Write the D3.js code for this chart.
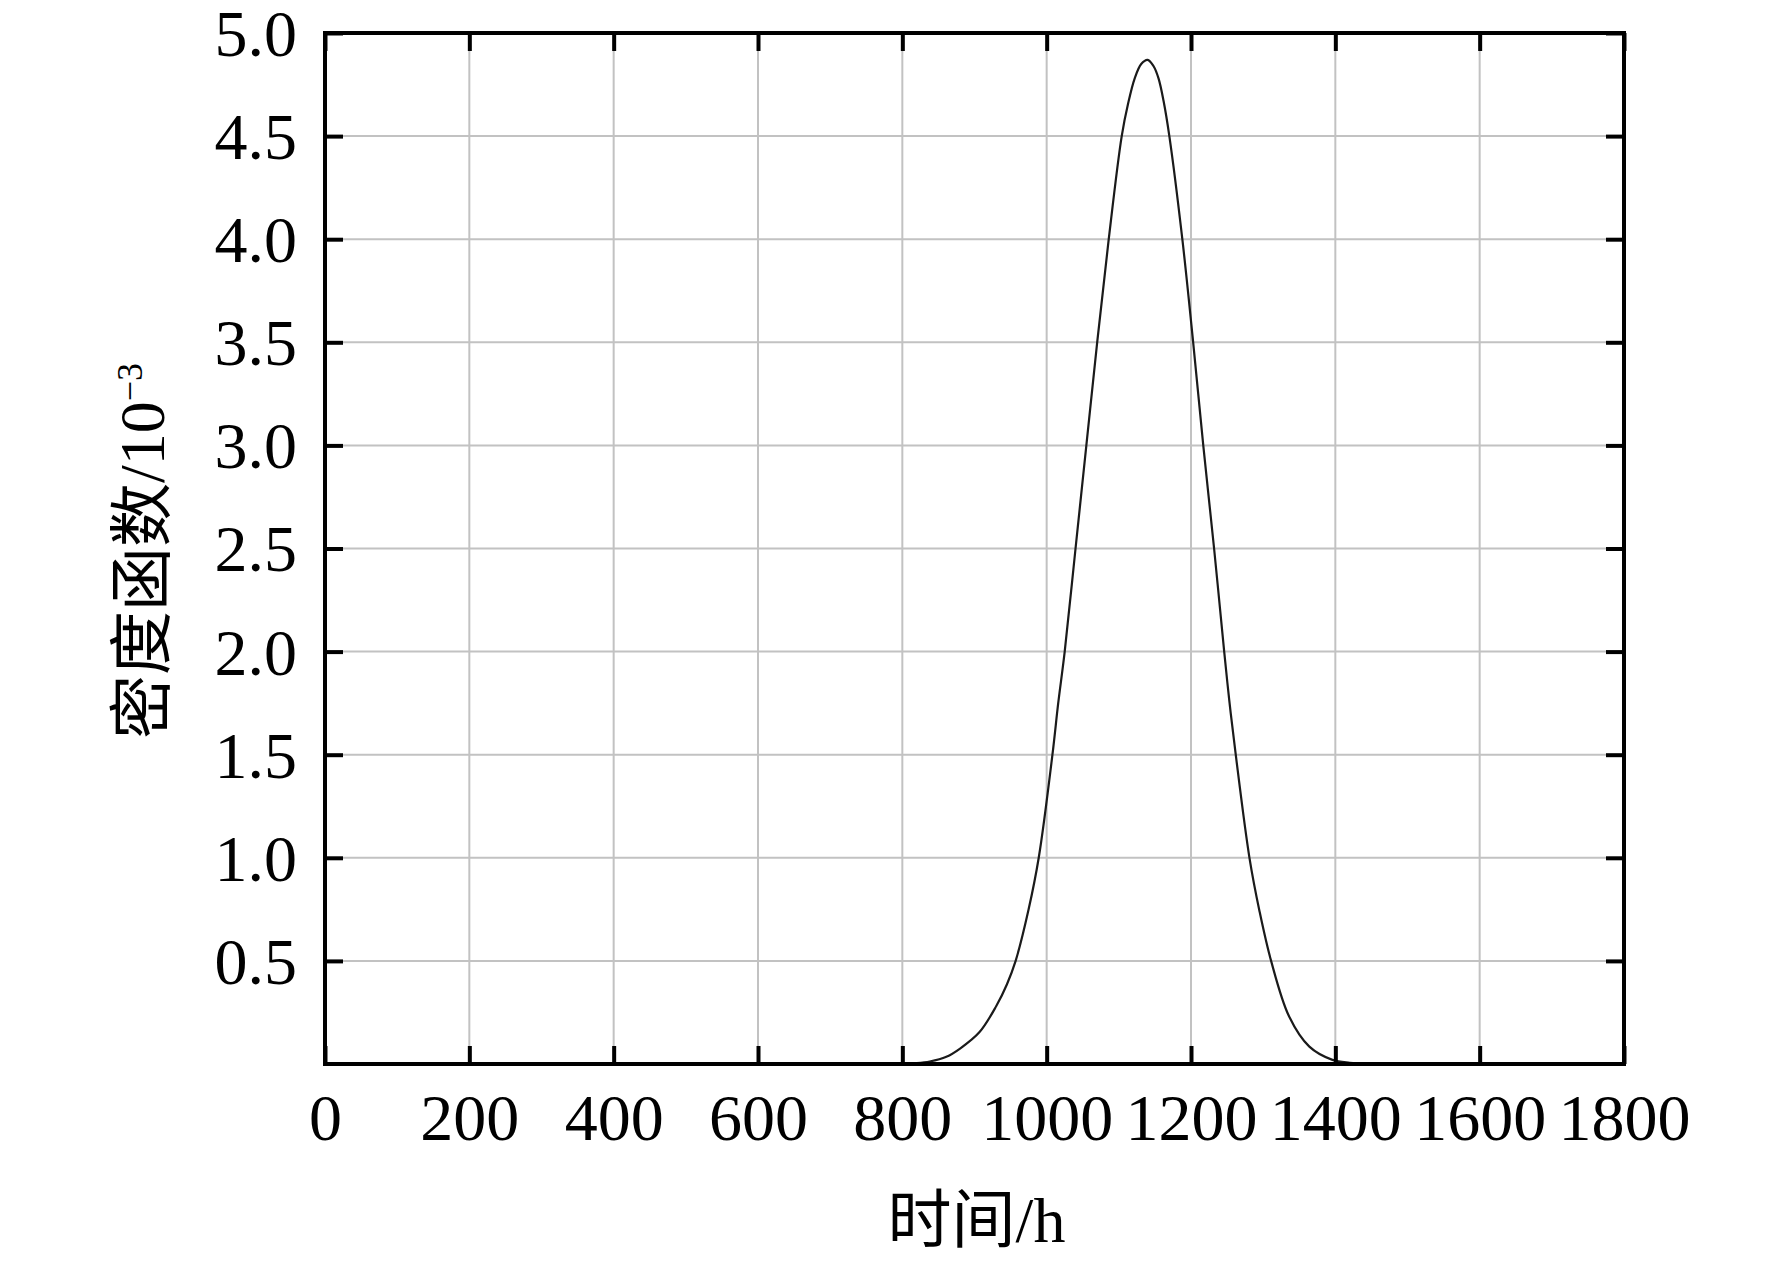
<!DOCTYPE html>
<html>
<head>
<meta charset="utf-8">
<script src="https://cdn.jsdelivr.net/npm/d3@7/dist/d3.min.js"></script>
<style>
  html, body { margin: 0; padding: 0; background: #fff; }
  svg { display: block; }
  text { font-family: "Liberation Serif", "Noto Sans CJK SC", serif; fill: #000; }
</style>
</head>
<body>
<svg id="chart" width="1772" height="1262"></svg>
<script>
// ---- data ----
const time = [0, 780, 800, 820, 838, 861, 880, 907, 930, 945, 957, 975, 989, 1008, 1016, 1025, 1040, 1055, 1070, 1086, 1104, 1113, 1122, 1131, 1140, 1148, 1155, 1162, 1170, 1188, 1203, 1217, 1232, 1246, 1253, 1262, 1281, 1295, 1311, 1336, 1364, 1396, 1420, 1450, 1480, 1800];
const density = [0, 0, 0.001, 0.004, 0.012, 0.035, 0.075, 0.155, 0.28, 0.387, 0.5, 0.75, 1.0, 1.5, 1.75, 2.0, 2.5, 3.0, 3.5, 4.0, 4.5, 4.66, 4.78, 4.85, 4.87, 4.84, 4.78, 4.67, 4.5, 4.0, 3.5, 3.0, 2.5, 2.0, 1.765, 1.5, 1.0, 0.74, 0.5, 0.23, 0.084, 0.02, 0.006, 0.001, 0, 0];
const xTicks = [0, 200, 400, 600, 800, 1000, 1200, 1400, 1600, 1800];
const yTicks = [0.5, 1.0, 1.5, 2.0, 2.5, 3.0, 3.5, 4.0, 4.5, 5.0];
const xTitle = "时间/h";
const yTitleMain = "密度函数/10";
const yTitleSup = "−3";

(function () {
// ---- layout ----
const svg = d3.select("#chart");
const pL = 325, pR = 1624, pT = 33, pB = 1064;
const x = d3.scaleLinear().domain([0, 1800]).range([pL, pR]);
const y = d3.scaleLinear().domain([0, 5]).range([pB, pT]);

// grid
const grid = svg.append("g");
grid.selectAll("line.gx").data(xTicks.filter(d => d > 0 && d < 1800)).enter()
  .append("line").attr("x1", d => x(d)).attr("x2", d => x(d))
  .attr("y1", pT).attr("y2", pB)
  .attr("stroke", "#c2c2c2").attr("stroke-width", 2);
grid.selectAll("line.gy").data(yTicks.filter(d => d < 5)).enter()
  .append("line").attr("y1", d => y(d)).attr("y2", d => y(d))
  .attr("x1", pL).attr("x2", pR)
  .attr("stroke", "#c2c2c2").attr("stroke-width", 2);

// curve
const line = d3.line().x((d, i) => x(time[i])).y((d, i) => y(density[i])).curve(d3.curveCatmullRom.alpha(0.5));
svg.append("path").datum(density).attr("d", line)
  .attr("fill", "none").attr("stroke", "#1a1a1a").attr("stroke-width", 2.2);

// axes (ticks inward)
const tickLen = 18;
function styleAxis(g) {
  g.select(".domain").remove();
  g.selectAll(".tick line").attr("stroke", "#000").attr("stroke-width", 4);
}
const gx = svg.append("g").attr("transform", `translate(0,${pB})`)
  .call(d3.axisBottom(x).tickValues(xTicks).tickSize(-tickLen).tickFormat(d3.format("d")));
styleAxis(gx);
gx.selectAll("text").attr("y", 76).attr("dy", 0).attr("font-size", 66)
  .attr("font-family", "Liberation Serif").attr("fill", "#000");

const gy = svg.append("g").attr("transform", `translate(${pL},0)`)
  .call(d3.axisLeft(y).tickValues(yTicks).tickSize(-tickLen).tickFormat(d3.format(".1f")));
styleAxis(gy);
gy.selectAll("text").attr("x", -28).attr("dy", "0.34em").attr("font-size", 66)
  .attr("font-family", "Liberation Serif").attr("fill", "#000");

const gt = svg.append("g").attr("transform", `translate(0,${pT})`)
  .call(d3.axisTop(x).tickValues(xTicks).tickSize(-tickLen).tickFormat(""));
styleAxis(gt);
const gr = svg.append("g").attr("transform", `translate(${pR},0)`)
  .call(d3.axisRight(y).tickValues(yTicks).tickSize(-tickLen).tickFormat(""));
styleAxis(gr);

// frame
svg.append("rect").attr("x", pL).attr("y", pT)
  .attr("width", pR - pL).attr("height", pB - pT)
  .attr("fill", "none").attr("stroke", "#000").attr("stroke-width", 4);

// titles
svg.append("text").attr("x", (pL + pR) / 2 + 2).attr("y", 1242)
  .attr("text-anchor", "middle").attr("font-size", 64).text(xTitle);

const yt = svg.append("text")
  .attr("transform", `translate(164,551) rotate(-90)`)
  .attr("text-anchor", "middle").attr("font-size", 64);
yt.append("tspan").text(yTitleMain);
yt.append("tspan").attr("font-size", 36).attr("dy", -22).text(yTitleSup);
})();
</script>
</body>
</html>
